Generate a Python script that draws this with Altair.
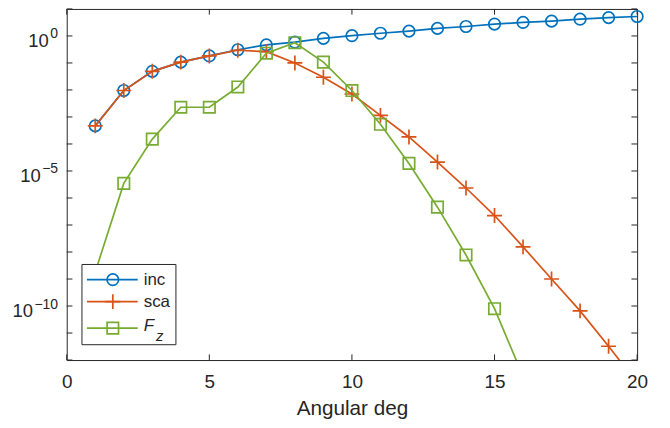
import altair as alt
import pandas as pd

# ---------------- data (log10 of the plotted values) -------------
angles = list(range(1, 21))
inc_log10 = [-3.33, -2.02, -1.31, -0.97, -0.74, -0.51, -0.33, -0.23, -0.09, 0.01,
             0.10, 0.18, 0.28, 0.35, 0.44, 0.50, 0.55, 0.62, 0.68, 0.72]
sca_log10 = [-3.33, -2.02, -1.31, -0.97, -0.74, -0.53, -0.58, -1.00, -1.53, -2.15,
             -2.94, -3.74, -4.67, -5.63, -6.65, -7.81, -9.00, -10.18, -11.49, -12.85]
fz_angles = list(range(1, 17))
fz_log10 = [-8.74, -5.46, -3.82, -2.64, -2.64, -1.89, -0.64, -0.25, -0.97, -2.02,
            -3.27, -4.72, -6.34, -8.11, -10.10, -12.60]

x_ticks = [0, 5, 10, 15, 20]
y_label_exps = ["0", "\u22125", "\u221210"]
y_label_vals = [1.0, 1e-5, 1e-10]
y_tick_exps = list(range(-12, 2))

series = ["inc", "sca", "Fz"]
colors = {"inc": "#0072BD", "sca": "#D95319", "Fz": "#77AC30"}

rows = []
for a, e in zip(angles, inc_log10):
    rows.append({"angle": a, "value": 10.0 ** e, "series": "inc"})
for a, e in zip(angles, sca_log10):
    rows.append({"angle": a, "value": 10.0 ** e, "series": "sca"})
for a, e in zip(fz_angles, fz_log10):
    rows.append({"angle": a, "value": 10.0 ** e, "series": "Fz"})
df = pd.DataFrame(rows)

xt_df = pd.DataFrame({"v": x_ticks})
yt_df = pd.DataFrame({"v": [10.0 ** e for e in y_tick_exps]})
dummy = pd.DataFrame({"k": [0]})

# ---------------- layout / style ----------------
W, H = 573, 352.7
YMIN, YMAX = 1e-12, 1e1
FONT = "Liberation Sans"
INK = "#262626"
TL = 5.7  # tick length
TICK_FS = 19
TITLE_FS = 20.8
LEG_FS = 17
BASE_FS = 18.5
EXP_FS = 14
LW = 1.7

xscale = alt.Scale(domain=[0, 20], nice=False, zero=False)
yscale = alt.Scale(type="log", domain=[YMIN, YMAX], nice=False)

xaxis = alt.Axis(values=x_ticks, format="d", ticks=False, tickSize=0, domain=False, grid=False,
                 labelFont=FONT, labelFontSize=TICK_FS, labelColor=INK, labelPadding=12.5,
                 labelFlush=False, labelOverlap=False,
                 title="Angular deg", titleFont=FONT, titleFontSize=TITLE_FS,
                 titleFontWeight="normal", titleColor=INK, titlePadding=7.5)
yaxis = alt.Axis(values=y_label_vals, labels=False, ticks=False, tickSize=0, domain=False,
                 grid=False, title="")


def X(field):
    return alt.X(f"{field}:Q", scale=xscale, axis=xaxis)


def Y(field):
    return alt.Y(f"{field}:Q", scale=yscale, axis=yaxis)


layers = []

# inward ticks (box style)
layers.append(alt.Chart(xt_df).mark_rule(color=INK, strokeWidth=1).encode(
    x=X("v"), y=alt.value(H), y2=alt.value(H - TL)))
layers.append(alt.Chart(xt_df).mark_rule(color=INK, strokeWidth=1).encode(
    x=X("v"), y=alt.value(0), y2=alt.value(TL)))
layers.append(alt.Chart(yt_df).mark_rule(color=INK, strokeWidth=1).encode(
    y=Y("v"), x=alt.value(0), x2=alt.value(TL)))
layers.append(alt.Chart(yt_df).mark_rule(color=INK, strokeWidth=1).encode(
    y=Y("v"), x=alt.value(W), x2=alt.value(W - TL)))

# y tick labels: "10" with a superscript exponent
EXP_RIGHT = -8.7
for val, ex in zip(y_label_vals, y_label_exps):
    n_minus = ex.count("\u2212")
    n_dig = len(ex) - n_minus
    ex_w = EXP_FS * (0.584 * n_minus + 0.556 * n_dig)
    ldf = pd.DataFrame({"v": [val]})
    layers.append(alt.Chart(ldf).mark_text(font=FONT, fontSize=EXP_FS, color=INK, align="right",
                                           baseline="alphabetic", dy=2.5).encode(
        y=Y("v"), x=alt.value(EXP_RIGHT), text=alt.value(ex)))
    layers.append(alt.Chart(ldf).mark_text(font=FONT, fontSize=BASE_FS, color=INK, align="right",
                                           baseline="alphabetic", dy=11.5).encode(
        y=Y("v"), x=alt.value(EXP_RIGHT - ex_w - 1.5), text=alt.value("10")))

marker = {
    "inc": dict(shape="circle", size=133),
    "sca": dict(shape="M-1,0H1M0,-1V1", size=225),
    "Fz": dict(shape="square", size=132),
}

for s in series:
    base = alt.Chart(df).transform_filter(alt.datum.series == s)
    layers.append(base.mark_line(clip=True, color=colors[s], strokeWidth=LW).encode(
        x=X("angle"), y=Y("value")))
    layers.append(base.transform_filter(alt.datum.value >= YMIN).mark_point(
        filled=False, color=colors[s], strokeWidth=LW, opacity=1,
        shape=marker[s]["shape"], size=marker[s]["size"]).encode(
        x=X("angle"), y=Y("value")))

# legend (drawn by hand, MATLAB style)
LX0, LX1, LY0, LY1 = 15.3, 109.7, 256.7, 337.3
layers.append(alt.Chart(dummy).mark_rect(fill="white", stroke=INK, strokeWidth=1).encode(
    x=alt.value(LX0), x2=alt.value(LX1), y=alt.value(LY0), y2=alt.value(LY1)))
row_y = {"inc": 272, "sca": 294, "Fz": 320.7}
for s in series:
    yy = row_y[s]
    layers.append(alt.Chart(dummy).mark_rule(color=colors[s], strokeWidth=LW).encode(
        x=alt.value(20.3), x2=alt.value(71.3), y=alt.value(yy)))
    layers.append(alt.Chart(dummy).mark_point(
        filled=False, color=colors[s], strokeWidth=LW, opacity=1,
        shape=marker[s]["shape"], size=marker[s]["size"]).encode(
        x=alt.value(46.3), y=alt.value(yy)))
layers.append(alt.Chart(dummy).mark_text(font=FONT, fontSize=LEG_FS, color=INK, align="left",
                                         baseline="middle").encode(
    x=alt.value(77.3), y=alt.value(row_y["inc"]), text=alt.value("inc")))
layers.append(alt.Chart(dummy).mark_text(font=FONT, fontSize=LEG_FS, color=INK, align="left",
                                         baseline="middle").encode(
    x=alt.value(77.3), y=alt.value(row_y["sca"]), text=alt.value("sca")))
layers.append(alt.Chart(dummy).mark_text(font=FONT, fontSize=LEG_FS, color=INK, align="left",
                                         baseline="middle", fontStyle="italic").encode(
    x=alt.value(77.3), y=alt.value(318.7), text=alt.value("F")))
layers.append(alt.Chart(dummy).mark_text(font=FONT, fontSize=15, color=INK, align="left",
                                         baseline="middle", fontStyle="italic").encode(
    x=alt.value(89.7), y=alt.value(329), text=alt.value("z")))

chart = alt.layer(*layers).properties(
    width=W, height=H,
    autosize=alt.AutoSizeParams(type="none"),
    padding={"left": 59, "top": 0, "right": 25, "bottom": 65},
).configure_view(stroke=INK, strokeWidth=1)

chart.save("out.html", embed_options={"renderer": "svg", "actions": False})
